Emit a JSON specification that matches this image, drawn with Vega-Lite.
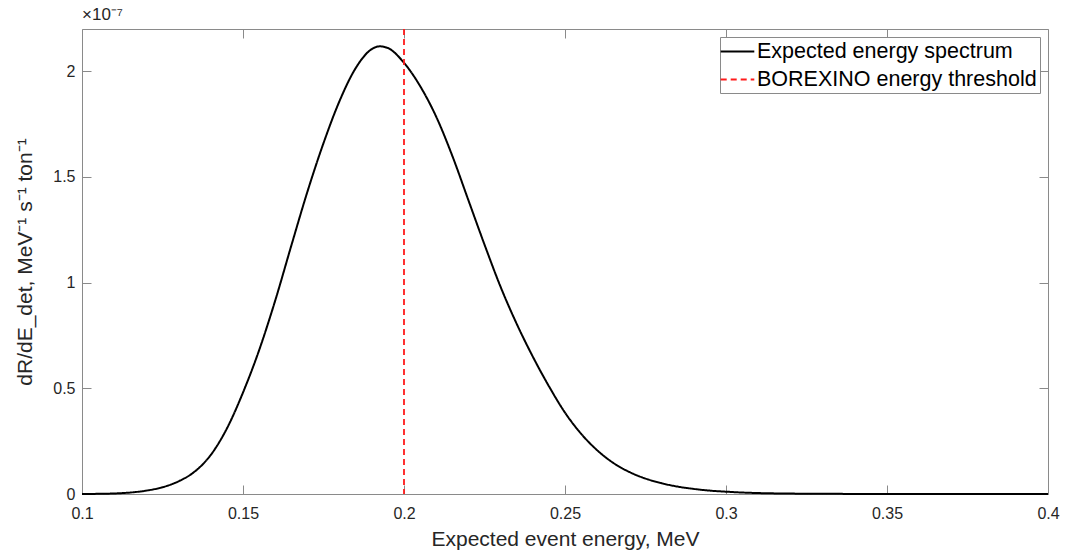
{
  "$schema": "https://vega.github.io/schema/vega-lite/v6.json",
  "width": 966,
  "height": 465,
  "autosize": {"type": "none"},
  "padding": {"left": 82, "top": 29, "right": 21, "bottom": 59},
  "background": "white",
  "config": {
    "font": "Liberation Sans",
    "view": {"stroke": null},
    "axis": {
      "grid": false,
      "domainColor": "#8a8a8a",
      "domainWidth": 1,
      "tickColor": "#8a8a8a",
      "tickWidth": 1,
      "tickSize": -9,
      "labelFont": "Liberation Sans",
      "labelFontSize": 16,
      "labelColor": "#262626",
      "labelFlush": false,
      "titleFont": "Liberation Sans",
      "titleFontSize": 21,
      "titleFontWeight": "normal",
      "titleColor": "#262626"
    },
    "legend": {
      "orient": "top-right",
      "offset": 8,
      "symbolType": "M-1.6,0H1.6",
      "symbolSize": 441,
      "symbolStrokeWidth": 2,
      "symbolOffset": 3,
      "labelFont": "Liberation Sans",
      "labelFontSize": 21.5,
      "labelColor": "#000000",
      "labelOffset": 8,
      "labelLimit": 500,
      "strokeColor": "#8a8a8a",
      "fillColor": "white",
      "padding": 3,
      "rowPadding": 6
    }
  },
  "title": {
    "text": "×10⁻⁷",
    "anchor": "start",
    "frame": "group",
    "fontSize": 17,
    "fontWeight": "normal",
    "font": "Liberation Sans",
    "color": "#262626",
    "offset": 4
  },
  "datasets": {
    "spectrum": [
      {"energy": 0.100, "rate": 0, "series": "Expected energy spectrum"},
      {"energy": 0.105, "rate": 0.0008e-7, "series": "Expected energy spectrum"},
      {"energy": 0.110, "rate": 0.0025e-7, "series": "Expected energy spectrum"},
      {"energy": 0.115, "rate": 0.007e-7, "series": "Expected energy spectrum"},
      {"energy": 0.120, "rate": 0.016e-7, "series": "Expected energy spectrum"},
      {"energy": 0.125, "rate": 0.032e-7, "series": "Expected energy spectrum"},
      {"energy": 0.130, "rate": 0.06e-7, "series": "Expected energy spectrum"},
      {"energy": 0.135, "rate": 0.106e-7, "series": "Expected energy spectrum"},
      {"energy": 0.140, "rate": 0.185e-7, "series": "Expected energy spectrum"},
      {"energy": 0.145, "rate": 0.31e-7, "series": "Expected energy spectrum"},
      {"energy": 0.150, "rate": 0.48e-7, "series": "Expected energy spectrum"},
      {"energy": 0.155, "rate": 0.68e-7, "series": "Expected energy spectrum"},
      {"energy": 0.160, "rate": 0.915e-7, "series": "Expected energy spectrum"},
      {"energy": 0.165, "rate": 1.175e-7, "series": "Expected energy spectrum"},
      {"energy": 0.170, "rate": 1.43e-7, "series": "Expected energy spectrum"},
      {"energy": 0.175, "rate": 1.66e-7, "series": "Expected energy spectrum"},
      {"energy": 0.180, "rate": 1.86e-7, "series": "Expected energy spectrum"},
      {"energy": 0.185, "rate": 2.015e-7, "series": "Expected energy spectrum"},
      {"energy": 0.190, "rate": 2.105e-7, "series": "Expected energy spectrum"},
      {"energy": 0.1925, "rate": 2.118e-7, "series": "Expected energy spectrum"},
      {"energy": 0.195, "rate": 2.11e-7, "series": "Expected energy spectrum"},
      {"energy": 0.200, "rate": 2.04e-7, "series": "Expected energy spectrum"},
      {"energy": 0.205, "rate": 1.93e-7, "series": "Expected energy spectrum"},
      {"energy": 0.210, "rate": 1.785e-7, "series": "Expected energy spectrum"},
      {"energy": 0.215, "rate": 1.60e-7, "series": "Expected energy spectrum"},
      {"energy": 0.220, "rate": 1.39e-7, "series": "Expected energy spectrum"},
      {"energy": 0.225, "rate": 1.18e-7, "series": "Expected energy spectrum"},
      {"energy": 0.230, "rate": 0.98e-7, "series": "Expected energy spectrum"},
      {"energy": 0.235, "rate": 0.805e-7, "series": "Expected energy spectrum"},
      {"energy": 0.240, "rate": 0.65e-7, "series": "Expected energy spectrum"},
      {"energy": 0.245, "rate": 0.51e-7, "series": "Expected energy spectrum"},
      {"energy": 0.250, "rate": 0.385e-7, "series": "Expected energy spectrum"},
      {"energy": 0.255, "rate": 0.285e-7, "series": "Expected energy spectrum"},
      {"energy": 0.260, "rate": 0.207e-7, "series": "Expected energy spectrum"},
      {"energy": 0.265, "rate": 0.147e-7, "series": "Expected energy spectrum"},
      {"energy": 0.270, "rate": 0.104e-7, "series": "Expected energy spectrum"},
      {"energy": 0.275, "rate": 0.073e-7, "series": "Expected energy spectrum"},
      {"energy": 0.280, "rate": 0.051e-7, "series": "Expected energy spectrum"},
      {"energy": 0.285, "rate": 0.035e-7, "series": "Expected energy spectrum"},
      {"energy": 0.290, "rate": 0.024e-7, "series": "Expected energy spectrum"},
      {"energy": 0.295, "rate": 0.016e-7, "series": "Expected energy spectrum"},
      {"energy": 0.300, "rate": 0.011e-7, "series": "Expected energy spectrum"},
      {"energy": 0.305, "rate": 0.007e-7, "series": "Expected energy spectrum"},
      {"energy": 0.310, "rate": 0.0045e-7, "series": "Expected energy spectrum"},
      {"energy": 0.320, "rate": 0.002e-7, "series": "Expected energy spectrum"},
      {"energy": 0.330, "rate": 0.001e-7, "series": "Expected energy spectrum"},
      {"energy": 0.340, "rate": 0.0004e-7, "series": "Expected energy spectrum"},
      {"energy": 0.350, "rate": 0.0001e-7, "series": "Expected energy spectrum"},
      {"energy": 0.400, "rate": 0, "series": "Expected energy spectrum"}
    ],
    "threshold": [
      {"energy": 0.2, "series": "BOREXINO energy threshold"}
    ]
  },
  "layer": [
    {
      "data": {"name": "spectrum"},
      "mark": {"type": "line", "strokeWidth": 2, "interpolate": "monotone"},
      "encoding": {
        "x": {
          "field": "energy", "type": "quantitative",
          "scale": {"domain": [0.1, 0.4], "nice": false, "zero": false},
          "axis": {
            "orient": "bottom",
            "values": [0.1, 0.15, 0.2, 0.25, 0.3, 0.35, 0.4],
            "format": "~g",
            "labelPadding": 20,
            "title": "Expected event energy, MeV",
            "titlePadding": 7
          }
        },
        "y": {
          "field": "rate", "type": "quantitative",
          "scale": {"domain": [0, 2.2e-7], "nice": false},
          "axis": {
            "orient": "left",
            "values": [0, 0.5e-7, 1e-7, 1.5e-7, 2e-7],
            "labelExpr": "format(datum.value*1e7, '~g')",
            "labelPadding": 16,
            "title": "dR/dE_det, MeV⁻¹ s⁻¹ ton⁻¹",
            "titlePadding": 17
          }
        },
        "color": {
          "field": "series", "type": "nominal",
          "scale": {"domain": ["Expected energy spectrum", "BOREXINO energy threshold"], "range": ["#000000", "#ff1a1a"]},
          "legend": {"title": null}
        },
        "strokeDash": {
          "field": "series", "type": "nominal",
          "scale": {"domain": ["Expected energy spectrum", "BOREXINO energy threshold"], "range": [[1, 0], [6, 4]]},
          "legend": {"title": null}
        }
      }
    },
    {
      "data": {"name": "threshold"},
      "mark": {"type": "rule", "strokeWidth": 1.8},
      "encoding": {
        "x": {"field": "energy", "type": "quantitative", "axis": null},
        "color": {"field": "series", "type": "nominal"},
        "strokeDash": {"field": "series", "type": "nominal"}
      }
    },
    {
      "data": {"name": "spectrum"},
      "mark": {"type": "line", "strokeOpacity": 0},
      "encoding": {
        "x": {
          "field": "energy", "type": "quantitative",
          "axis": {"orient": "top", "values": [0.1, 0.15, 0.2, 0.25, 0.3, 0.35, 0.4], "labels": false, "title": null}
        },
        "y": {
          "field": "rate", "type": "quantitative",
          "axis": {"orient": "right", "values": [0, 0.5e-7, 1e-7, 1.5e-7, 2e-7], "labels": false, "title": null}
        }
      }
    }
  ],
  "resolve": {"axis": {"x": "independent", "y": "independent"}}
}
